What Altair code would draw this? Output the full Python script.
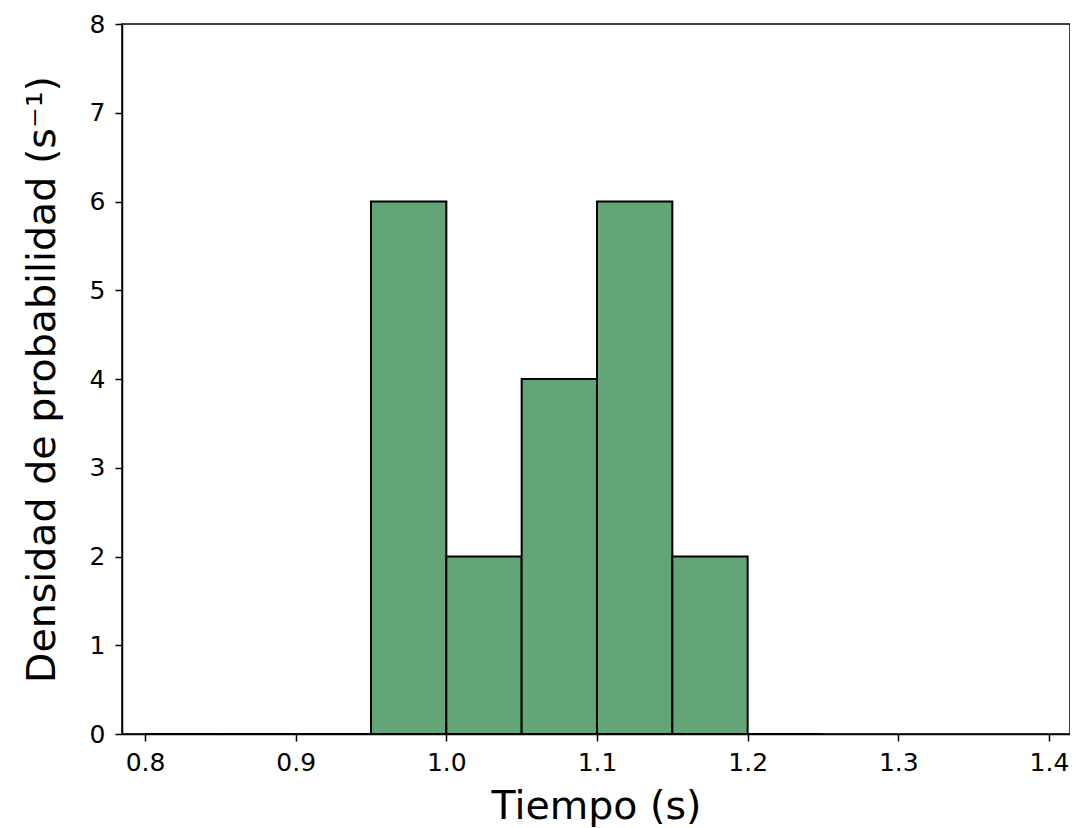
import altair as alt
import pandas as pd

bin_start = [0.80, 0.85, 0.90, 0.95, 1.00, 1.05, 1.10, 1.15, 1.20]
bin_end = [0.85, 0.90, 0.95, 1.00, 1.05, 1.10, 1.15, 1.20, 1.25]
density = [0, 0, 0, 6, 2, 4, 6, 2, 0]

df = pd.DataFrame({"start": bin_start, "end": bin_end, "density": density})

x_ticks = [0.8, 0.9, 1.0, 1.1, 1.2, 1.3, 1.4]
y_ticks = [0, 1, 2, 3, 4, 5, 6, 7, 8]

font = "DejaVu Sans"

chart = alt.Chart(df).mark_rect(
    fill="#64a577", stroke="black", strokeWidth=2
).encode(
    x=alt.X("start:Q",
            scale=alt.Scale(domain=[0.78473, 1.41394], nice=False, zero=False),
            axis=alt.Axis(values=x_ticks, format=".1f", title="Tiempo (s)",
                          grid=False, tickSize=7, tickWidth=1.5, tickColor="black",
                          domainColor="black", domainWidth=1.5,
                          labelFontSize=25, labelFont=font, labelColor="black",
                          labelPadding=9,
                          titleFontSize=39.5, titleFont=font, titleFontWeight="normal",
                          titleColor="black", titleBaseline="alphabetic", titleY=84)),
    x2="end:Q",
    y=alt.Y("density:Q",
            scale=alt.Scale(domain=[0, 8], nice=False),
            axis=alt.Axis(values=y_ticks, title="Densidad de probabilidad (s⁻¹)",
                          grid=False, tickSize=7, tickWidth=1.5, tickColor="black",
                          domainColor="black", domainWidth=1.5,
                          labelFontSize=25, labelFont=font, labelColor="black",
                          labelPadding=10,
                          titleFontSize=39.5, titleFont=font, titleFontWeight="normal",
                          titleColor="black", titlePadding=27)),
    y2=alt.datum(0),
).properties(
    width=948, height=710,
    autosize=alt.AutoSizeParams(type="none"),
    padding={"left": 114, "top": 16, "right": 0, "bottom": 96},
).configure(
    background="white",
    view=alt.ViewConfig(stroke="black", strokeWidth=1.5),
)

chart.save("out.html", embed_options={"renderer": "svg", "actions": False})
